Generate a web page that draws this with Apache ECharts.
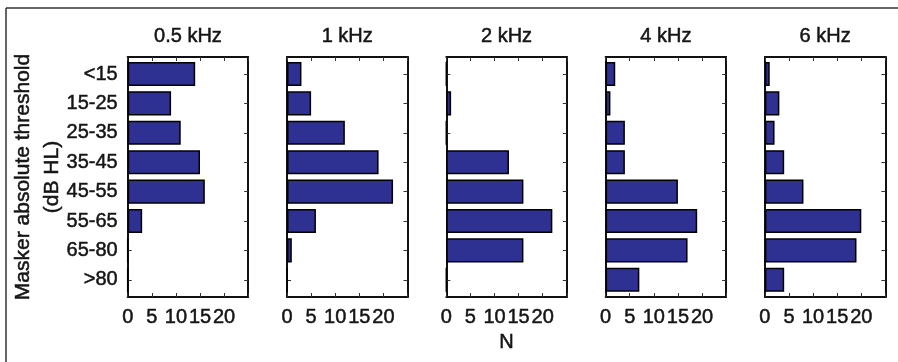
<!DOCTYPE html>
<html>
<head>
<meta charset="utf-8">
<script src="https://cdn.jsdelivr.net/npm/echarts@6/dist/echarts.min.js"></script>
<style>
html,body{margin:0;padding:0;background:#fff;}
#chart{width:898px;height:362px;}
</style>
</head>
<body>
<div id="chart"></div>
<script>
// ---- data ----
const categories = ['<15', '15-25', '25-35', '35-45', '45-55', '55-65', '65-80', '>80'];
const panelTitles = ['0.5 kHz', '1 kHz', '2 kHz', '4 kHz', '6 kHz'];
const n_05k = [14, 9, 11, 15, 16, 3, 0, 0];
const n_1k  = [3, 5, 12, 19, 22, 6, 1, 0];
const n_2k  = [0, 1, 0, 13, 16, 22, 16, 0];
const n_4k  = [2, 1, 4, 4, 15, 19, 17, 7];
const n_6k  = [1, 3, 2, 4, 8, 20, 19, 4];
const xTickLabels = [0, 5, 10, 15, 20];
const xMax = 25;
const yTitle = 'Masker absolute threshold\n(dB HL)';
const xTitle = 'N';

const panelData = [n_05k, n_1k, n_2k, n_4k, n_6k];

// ---- layout ----
const FONT = 'Liberation Sans, Arial, Helvetica, sans-serif';
const TXT = '#151515';
const panelLeft0 = 127.7, panelStep = 159.3, panelW = 120.5;
const frameTop = 57, frameH = 240;
const band = 29.4;
const dataTop = 74 - band / 2, dataH = band * categories.length;

function txt(size) {
  return {fontSize: size, color: TXT, fontFamily: FONT, textBorderColor: TXT, textBorderWidth: 0.5};
}
function tick() { return {show: true, inside: true, length: 4, lineStyle: {color: '#333', width: 1}}; }
function aline() { return {show: true, onZero: false, lineStyle: {color: '#111', width: 2}}; }

const grid = [], xAxis = [], yAxis = [], series = [];
panelData.forEach((vals, i) => {
  const left = panelLeft0 + panelStep * i;
  grid.push({left: left, top: frameTop, width: panelW, height: frameH});
  grid.push({left: left, top: dataTop, width: panelW, height: dataH});
  const fg = 2 * i, dg = 2 * i + 1;
  // frame bottom x
  xAxis.push({
    type: 'value', gridIndex: fg, position: 'bottom', min: 0, max: xMax, interval: 5,
    axisLine: aline(), axisTick: tick(), splitLine: {show: false},
    axisLabel: Object.assign({
      show: true, margin: 10,
      formatter: v => xTickLabels.indexOf(v) >= 0 ? String(v) : ''
    }, txt(20)),
    name: i === 2 ? xTitle : '', nameLocation: 'middle', nameGap: 34,
    nameTextStyle: txt(20)
  });
  // frame top x
  xAxis.push({
    type: 'value', gridIndex: fg, position: 'top', min: 0, max: xMax, interval: 5,
    axisLine: aline(), axisTick: tick(), splitLine: {show: false},
    axisLabel: {show: false},
    name: panelTitles[i], nameLocation: 'middle', nameGap: 11,
    nameTextStyle: txt(20)
  });
  // data x
  xAxis.push({type: 'value', gridIndex: dg, min: 0, max: xMax, show: false, splitLine: {show: false}});
  // frame left/right y
  yAxis.push({
    type: 'value', gridIndex: fg, position: 'left', min: 0, max: 1,
    axisLine: aline(), axisTick: {show: false}, axisLabel: {show: false}, splitLine: {show: false},
    name: i === 0 ? yTitle : '', nameLocation: 'middle', nameRotate: 90, nameGap: 61,
    nameTextStyle: Object.assign(txt(21), {lineHeight: 29})
  });
  yAxis.push({
    type: 'value', gridIndex: fg, position: 'right', min: 0, max: 1,
    axisLine: aline(), axisTick: {show: false}, axisLabel: {show: false}, splitLine: {show: false}
  });
  // data left/right category y
  yAxis.push({
    type: 'category', gridIndex: dg, position: 'left', data: categories, inverse: true,
    axisLine: {show: false}, axisTick: Object.assign({alignWithLabel: true}, tick()),
    axisLabel: Object.assign({show: i === 0, margin: 10}, txt(20)),
    splitLine: {show: false}
  });
  yAxis.push({
    type: 'category', gridIndex: dg, position: 'right', data: categories, inverse: true,
    axisLine: {show: false}, axisTick: Object.assign({alignWithLabel: true}, tick()),
    axisLabel: {show: false}, splitLine: {show: false}
  });
  // empty series so the frame grid's axes are laid out and drawn
  series.push({type: 'line', xAxisIndex: 3 * i, yAxisIndex: 4 * i, data: [], silent: true});
  series.push({type: 'line', xAxisIndex: 3 * i + 1, yAxisIndex: 4 * i + 1, data: [], silent: true});
  series.push({
    type: 'bar', xAxisIndex: 3 * i + 2, yAxisIndex: 4 * i + 2,
    data: vals, barWidth: '82%',
    itemStyle: {color: '#2e3191', borderColor: '#000', borderWidth: 1.5},
    silent: true
  });
});

const chart = echarts.init(document.getElementById('chart'), null, {renderer: 'canvas'});
chart.setOption({
  animation: false,
  backgroundColor: '#fff',
  textStyle: {fontFamily: FONT},
  grid, xAxis, yAxis, series,
  graphic: [
    {type: 'line', shape: {x1: 6, y1: 8, x2: 898, y2: 8}, style: {stroke: '#333', lineWidth: 1.5}},
    {type: 'line', shape: {x1: 6, y1: 8, x2: 6, y2: 362}, style: {stroke: '#333', lineWidth: 1.5}}
  ]
});
</script>
</body>
</html>
